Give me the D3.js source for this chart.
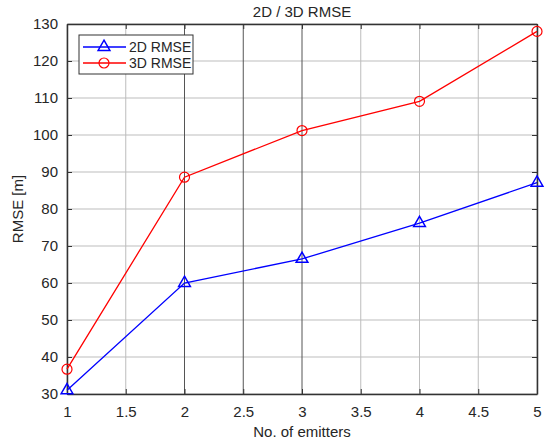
<!DOCTYPE html>
<meta charset="utf-8">
<html>
<head>
<title>2D / 3D RMSE</title>
<script src="https://d3js.org/d3.v7.min.js"></script>
<style>
body { margin: 0; background: #fff; }
text { font-family: Arial, "Liberation Sans", sans-serif; fill: #262626; }
</style>
</head>
<body>
<div id="chart"></div>
<script>
// data
var emitters = [1, 2, 3, 4, 5];
var rmse2d = [31, 60, 66.5, 76.2, 87.1];
var rmse3d = [36.7, 88.6, 101.2, 109.1, 128];
var xTicks = [1, 1.5, 2, 2.5, 3, 3.5, 4, 4.5, 5];
var yTicks = [30, 40, 50, 60, 70, 80, 90, 100, 110, 120, 130];
var darkGrid = [2, 2.5, 3];

var W = 546, H = 444;
var margin = {top: 24, right: 9, bottom: 50, left: 67};
var width = W - margin.left - margin.right,
    height = H - margin.top - margin.bottom;

var svg = d3.select("#chart").append("svg")
    .attr("width", W).attr("height", H);
var g = svg.append("g")
    .attr("transform", "translate(" + margin.left + "," + margin.top + ")");

var x = d3.scaleLinear().domain([1, 5]).range([0, width]);
var y = d3.scaleLinear().domain([30, 130]).range([height, 0]);

// grid
g.selectAll(".ygrid").data(yTicks).enter().append("line")
  .attr("x1", 0).attr("x2", width)
  .attr("y1", d => y(d)).attr("y2", d => y(d))
  .attr("stroke", "#bdbdbd").attr("stroke-width", 1);
g.selectAll(".xgrid").data(xTicks).enter().append("line")
  .attr("x1", d => x(d)).attr("x2", d => x(d))
  .attr("y1", 0).attr("y2", height)
  .attr("stroke", d => darkGrid.indexOf(d) >= 0 ? "#555" : "#bdbdbd")
  .attr("stroke-width", 1);

// axes (ticks inward, like matlab)
var fmt = d => String(d);
g.append("g").attr("transform", "translate(0," + height + ")")
  .call(d3.axisBottom(x).tickValues(xTicks).tickFormat(fmt).tickSizeInner(-5).tickSizeOuter(0).tickPadding(12));
g.append("g")
  .call(d3.axisTop(x).tickValues(xTicks).tickFormat("").tickSizeInner(-5).tickSizeOuter(0));
g.append("g")
  .call(d3.axisLeft(y).tickValues(yTicks).tickFormat(fmt).tickSizeInner(-5).tickSizeOuter(0).tickPadding(9));
g.append("g").attr("transform", "translate(" + width + ",0)")
  .call(d3.axisRight(y).tickValues(yTicks).tickFormat("").tickSizeInner(-5).tickSizeOuter(0));

g.selectAll(".domain").attr("stroke", "#333").attr("stroke-width", 1.5);
g.selectAll(".tick line").attr("stroke", "#333");
g.selectAll(".tick text").style("font-size", "15px").attr("fill", "#262626");

// lines
var line2 = d3.line().x((d, i) => x(emitters[i])).y(d => y(d));
g.append("path").datum(rmse2d).attr("d", line2)
  .attr("fill", "none").attr("stroke", "#0000ff").attr("stroke-width", 1.3);
g.append("path").datum(rmse3d).attr("d", line2)
  .attr("fill", "none").attr("stroke", "#ff0000").attr("stroke-width", 1.3);

var tri = d3.symbol().type(d3.symbolTriangle).size(60);
g.selectAll(".m2").data(rmse2d).enter().append("path")
  .attr("d", tri)
  .attr("transform", (d, i) => "translate(" + x(emitters[i]) + "," + y(d) + ")")
  .attr("fill", "none").attr("stroke", "#0000ff").attr("stroke-width", 1.5);
g.selectAll(".m3").data(rmse3d).enter().append("circle")
  .attr("cx", (d, i) => x(emitters[i])).attr("cy", d => y(d)).attr("r", 5)
  .attr("fill", "none").attr("stroke", "#ff0000").attr("stroke-width", 1.2);

// title and labels
svg.append("text").attr("x", margin.left + width / 2).attr("y", 17)
  .attr("text-anchor", "middle").style("font-size", "15px").text("2D / 3D RMSE");
svg.append("text").attr("x", margin.left + width / 2).attr("y", 437)
  .attr("text-anchor", "middle").style("font-size", "15px").text("No. of emitters");
svg.append("text").attr("transform", "translate(23," + (margin.top + height / 2) + ") rotate(-90)")
  .attr("text-anchor", "middle").style("font-size", "15px").text("RMSE [m]");

// legend
var leg = svg.append("g").attr("transform", "translate(79,35)");
leg.append("rect").attr("width", 114).attr("height", 39)
  .attr("fill", "#fff").attr("stroke", "#333").attr("stroke-width", 1);
var entries = [
  {name: "2D RMSE", color: "#0000ff", sym: "tri"},
  {name: "3D RMSE", color: "#ff0000", sym: "circle"}
];
entries.forEach(function(e, i) {
  var yy = 12 + i * 16;
  leg.append("line").attr("x1", 4).attr("x2", 47).attr("y1", yy).attr("y2", yy)
    .attr("stroke", e.color).attr("stroke-width", 1.3);
  if (e.sym === "tri") {
    leg.append("path").attr("d", tri).attr("transform", "translate(25," + yy + ")")
      .attr("fill", "none").attr("stroke", e.color).attr("stroke-width", 1.5);
  } else {
    leg.append("circle").attr("cx", 25).attr("cy", yy).attr("r", 5)
      .attr("fill", "none").attr("stroke", e.color).attr("stroke-width", 1.2);
  }
  leg.append("text").attr("x", 50).attr("y", yy + 5).style("font-size", "14px").text(e.name);
});
</script>
</body>
</html>
